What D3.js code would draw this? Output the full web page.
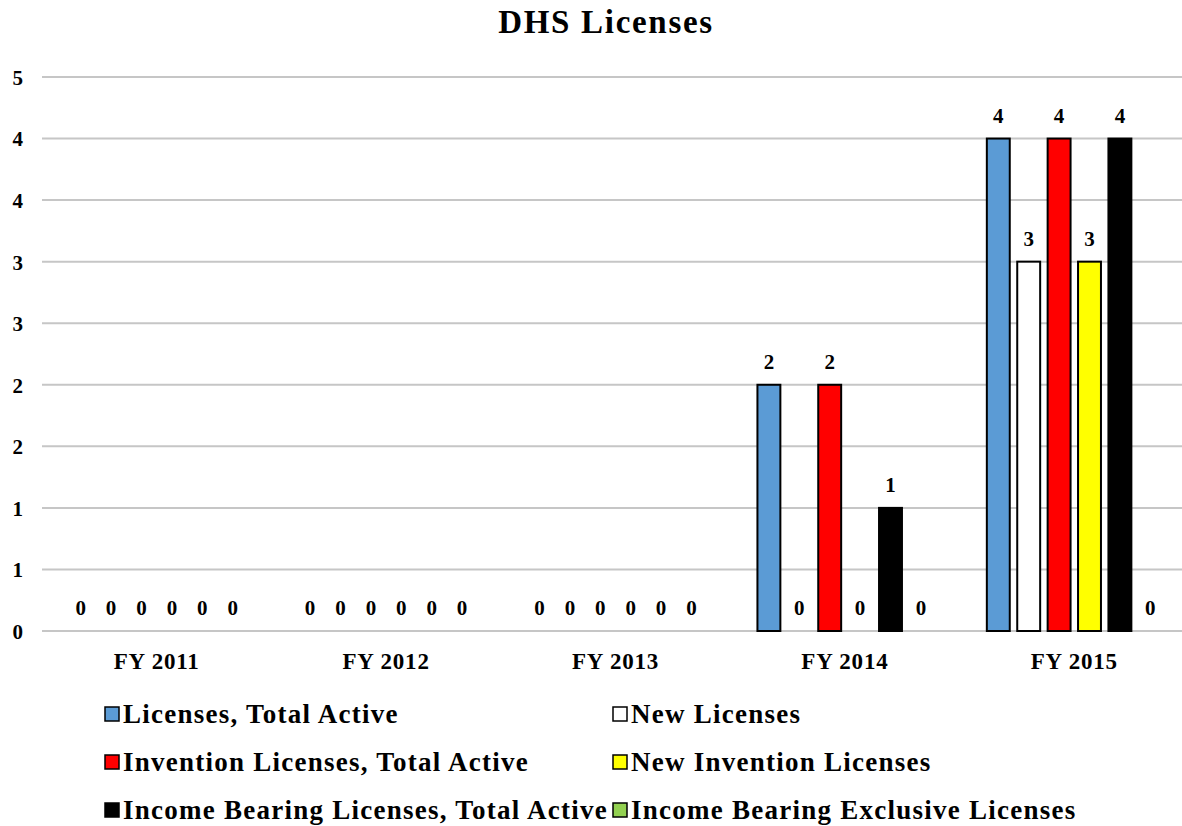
<!DOCTYPE html>
<html>
<head>
<meta charset="utf-8">
<script src="https://cdn.jsdelivr.net/npm/d3@7"></script>
<style>
  html, body { margin: 0; padding: 0; background: #fff; }
  svg { display: block; }
  text { font-family: "Liberation Serif", "Times New Roman", serif; font-weight: bold; fill: #000; }
</style>
</head>
<body>
<svg id="chart" width="1182" height="826"></svg>
<script>
const categories = ["FY 2011", "FY 2012", "FY 2013", "FY 2014", "FY 2015"];
const seriesNames = [
  "Licenses, Total Active",
  "New Licenses",
  "Invention Licenses, Total Active",
  "New Invention Licenses",
  "Income Bearing Licenses, Total Active",
  "Income Bearing Exclusive Licenses"
];
const seriesColors = ["#5B9BD5", "#FFFFFF", "#FF0000", "#FFFF00", "#000000", "#92D050"];
const licensesTotalActive = [0, 0, 0, 2, 4];
const newLicenses = [0, 0, 0, 0, 3];
const inventionTotalActive = [0, 0, 0, 2, 4];
const newInvention = [0, 0, 0, 0, 3];
const incomeBearingTotal = [0, 0, 0, 1, 4];
const incomeBearingExclusive = [0, 0, 0, 0, 0];
const seriesValues = [licensesTotalActive, newLicenses, inventionTotalActive, newInvention, incomeBearingTotal, incomeBearingExclusive];
const yTicks = [0, 0.5, 1, 1.5, 2, 2.5, 3, 3.5, 4, 4.5];

const svg = d3.select("#chart");
const plotLeft = 42, plotRight = 1189, plotTop = 77, plotBottom = 631;

const x0 = d3.scaleBand().domain(categories).range([plotLeft, plotRight]).padding(0);
const groupW = 182.4;
const x1 = d3.scaleBand().domain(d3.range(seriesNames.length))
  .range([(x0.bandwidth() - groupW) / 2, (x0.bandwidth() + groupW) / 2])
  .paddingInner(0.18).paddingOuter(0.09);
const y = d3.scaleLinear().domain([0, 4.5]).range([plotBottom, plotTop]);

// title
svg.append("text").attr("x", 606).attr("y", 33).attr("text-anchor", "middle")
  .style("font-size", "33px").style("letter-spacing", "1.7px").text("DHS Licenses");

// gridlines
svg.append("g").selectAll("line").data(yTicks).join("line")
  .attr("x1", plotLeft).attr("x2", plotRight)
  .attr("y1", d => y(d)).attr("y2", d => y(d))
  .attr("stroke", "#c6c6c6").attr("stroke-width", 2);

// y axis labels
const yAxis = d3.axisLeft(y).tickValues(yTicks).tickFormat(d => Math.round(d)).tickSize(0).tickPadding(0);
const yg = svg.append("g").attr("transform", "translate(23,0)").call(yAxis);
yg.select(".domain").remove();
yg.selectAll("text").style("font-size", "21px").attr("dy", "0.35em")
  .style("font-family", "'Liberation Serif', serif").style("font-weight", "bold");

// bars
const groups = svg.append("g").selectAll("g").data(categories).join("g")
  .attr("transform", d => `translate(${x0(d)},0)`);

groups.each(function(cat, ci) {
  const g = d3.select(this);
  seriesNames.forEach((s, si) => {
    const v = seriesValues[si][ci];
    const bx = x1(si);
    if (v > 0) {
      g.append("rect")
        .attr("x", bx + 1).attr("y", y(v))
        .attr("width", x1.bandwidth() - 2).attr("height", y(0) - y(v))
        .attr("fill", seriesColors[si]).attr("stroke", "#000").attr("stroke-width", 2);
    }
    g.append("text").attr("x", bx + x1.bandwidth() / 2).attr("y", y(v) - 16)
      .attr("text-anchor", "middle").style("font-size", "21px").text(v);
  });
});

// x axis labels
const xAxis = d3.axisBottom(x0).tickSize(0).tickPadding(0);
const xg = svg.append("g").attr("transform", `translate(0,${plotBottom})`).call(xAxis);
xg.select(".domain").remove();
xg.selectAll("text").attr("y", 38).attr("dy", 0).style("font-size", "23px")
  .style("letter-spacing", "0.8px")
  .style("font-family", "'Liberation Serif', serif").style("font-weight", "bold");

// legend
const legendPos = [
  [104, 714], [612, 714],
  [104, 762], [612, 762],
  [104, 810], [612, 810]
];
const lg = svg.append("g").selectAll("g").data(seriesNames).join("g")
  .attr("transform", (d, i) => `translate(${legendPos[i][0]},${legendPos[i][1]})`);
lg.append("rect").attr("x", 1).attr("y", -7).attr("width", 14).attr("height", 14)
  .attr("fill", (d, i) => seriesColors[i]).attr("stroke", "#000").attr("stroke-width", 1.5);
lg.append("text").attr("x", 19).attr("y", 9).style("font-size", "27px")
  .style("letter-spacing", "1.25px").text(d => d);
</script>
</body>
</html>
